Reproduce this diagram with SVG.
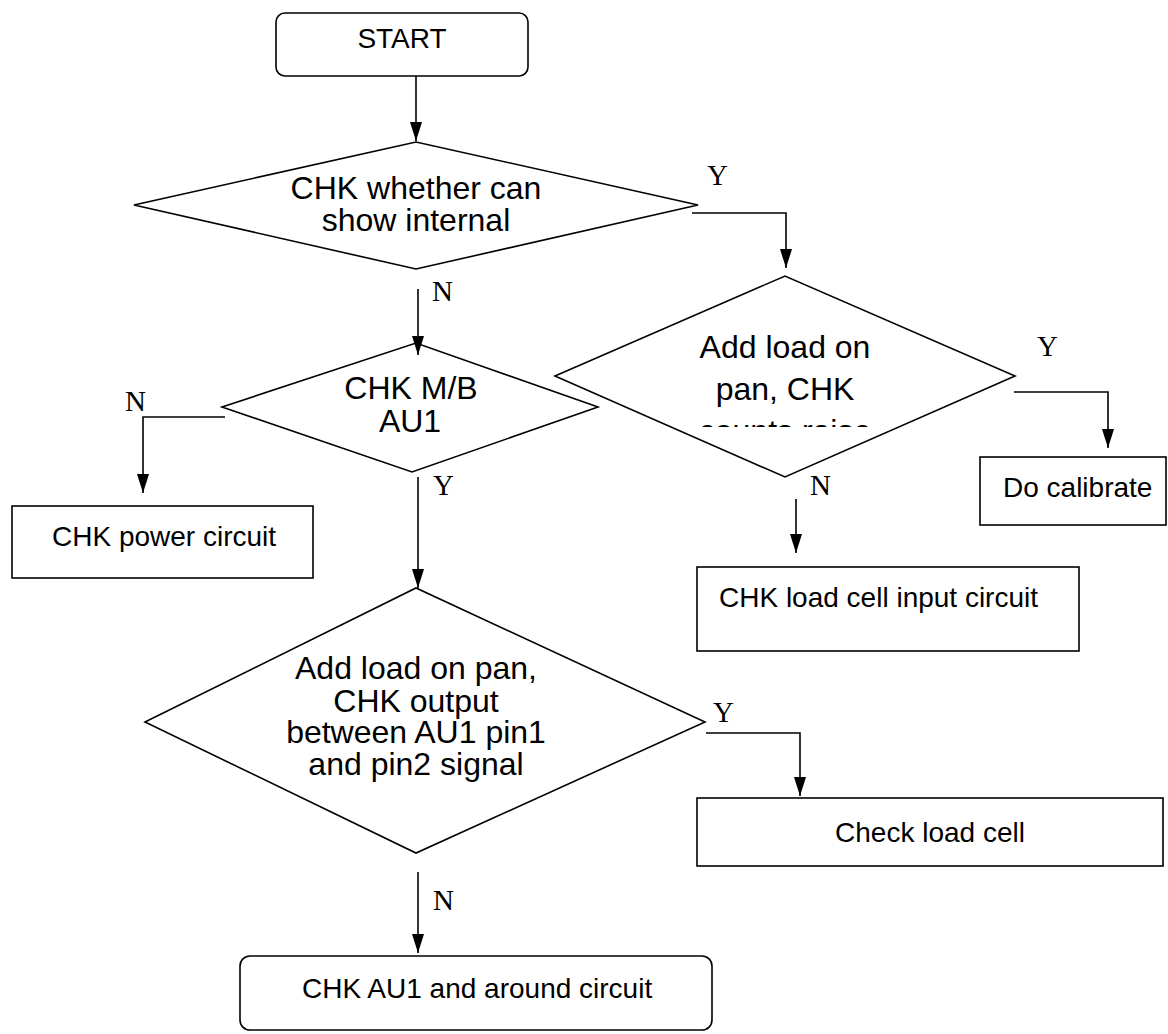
<svg xmlns="http://www.w3.org/2000/svg" width="1168" height="1034" viewBox="0 0 1168 1034">
<style>
.shape{fill:#fff;stroke:#000;stroke-width:1.6}
.conn{fill:none;stroke:#000;stroke-width:1.6}
.dt{font-family:"Liberation Sans",Arial,sans-serif;font-size:32px;fill:#000;text-anchor:middle}
.bt{font-family:"Liberation Sans",Arial,sans-serif;font-size:28px;fill:#000}
.lb{font-family:"Liberation Serif","Times New Roman",serif;font-size:29px;fill:#000}
</style>
<defs>
<marker id="ah" markerUnits="userSpaceOnUse" markerWidth="20" markerHeight="13" refX="19" refY="6" orient="auto">
<path d="M0,0 L19,6 L0,12 z" fill="#000"/>
</marker>
<clipPath id="clip2"><rect x="600" y="280" width="400" height="147"/></clipPath>
</defs>
<rect width="1168" height="1034" fill="#fff"/>
<g id="start">
<rect class="shape" x="276" y="13" width="252" height="63" rx="9"/>
<text class="bt" x="402" y="48" text-anchor="middle">START</text>
</g>
<g id="d1">
<polygon class="shape" points="134,205 416,142 698,205 416,269"/>
<text class="dt" x="416" y="199">CHK whether can</text>
<text class="dt" x="416" y="231">show internal</text>
</g>
<g id="dmb">
<polygon class="shape" points="222,407 416,343 598,407 412,472"/>
<text class="dt" x="411" y="399">CHK M/B</text>
<text class="dt" x="410" y="432">AU1</text>
</g>
<g id="d2">
<polygon class="shape" points="555,376 785,276 1015,376 785,477"/>
<text class="dt" x="785" y="358">Add load on</text>
<text class="dt" x="785" y="400">pan, CHK</text>
<text class="dt" x="785" y="442" clip-path="url(#clip2)">counts raise</text>
</g>
<g id="power">
<rect class="shape" x="12" y="506" width="301" height="72"/>
<text class="bt" x="52" y="546">CHK power circuit</text>
</g>
<g id="calib">
<rect class="shape" x="980" y="457" width="186" height="68"/>
<text class="bt" x="1003" y="497">Do calibrate</text>
</g>
<g id="lcinput">
<rect class="shape" x="697" y="567" width="382" height="84"/>
<text class="bt" x="719" y="607">CHK load cell input circuit</text>
</g>
<g id="d3">
<polygon class="shape" points="145,722 416,588 705,722 416,853"/>
<text class="dt" x="416" y="679">Add load on pan,</text>
<text class="dt" x="416" y="712">CHK output</text>
<text class="dt" x="416" y="743">between AU1 pin1</text>
<text class="dt" x="416" y="775">and pin2 signal</text>
</g>
<g id="checklc">
<rect class="shape" x="697" y="798" width="466" height="68"/>
<text class="bt" x="930" y="842" text-anchor="middle">Check load cell</text>
</g>
<g id="au1">
<rect class="shape" x="240" y="956" width="472" height="74" rx="10"/>
<text class="bt" x="302" y="998">CHK AU1 and around circuit</text>
</g>
<g id="connectors">
<line class="conn" x1="416" y1="76" x2="416" y2="141" marker-end="url(#ah)"/>
<polyline class="conn" points="692,213 786,213 786,268" marker-end="url(#ah)"/>
<line class="conn" x1="418" y1="289" x2="418" y2="355" marker-end="url(#ah)"/>
<polyline class="conn" points="225,417 143,417 143,493" marker-end="url(#ah)"/>
<line class="conn" x1="418" y1="477" x2="418" y2="588" marker-end="url(#ah)"/>
<polyline class="conn" points="1014,392 1108,392 1108,448" marker-end="url(#ah)"/>
<line class="conn" x1="796" y1="499" x2="796" y2="553" marker-end="url(#ah)"/>
<polyline class="conn" points="706,733 800,733 800,796" marker-end="url(#ah)"/>
<line class="conn" x1="418" y1="872" x2="418" y2="953" marker-end="url(#ah)"/>
</g>
<g id="labels">
<text class="lb" x="707" y="185">Y</text>
<text class="lb" x="432" y="301">N</text>
<text class="lb" x="125" y="411">N</text>
<text class="lb" x="433" y="495">Y</text>
<text class="lb" x="1037" y="356">Y</text>
<text class="lb" x="810" y="495">N</text>
<text class="lb" x="713" y="722">Y</text>
<text class="lb" x="433" y="910">N</text>
</g>
</svg>
